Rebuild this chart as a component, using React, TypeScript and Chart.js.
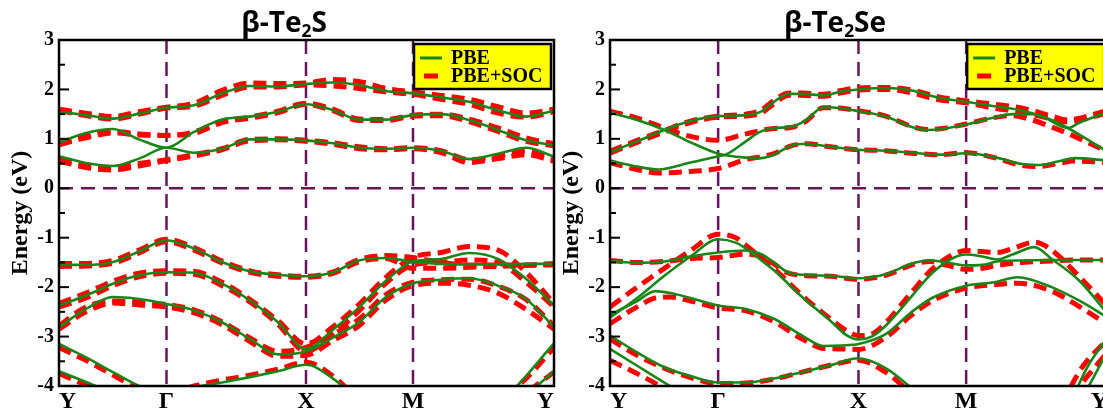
import React, { useEffect, useRef } from 'react';
import { Chart, registerables } from 'chart.js';

Chart.register(...registerables);

// ---------- axis data ----------
const kTicks = [0, 107.5, 247, 354, 495];
const kLabels = ['Y', 'Γ', 'X', 'M', 'Y'];
const kGrid = [0, 27, 54, 80, 107.5, 135, 163, 191, 219, 247, 274, 300, 327, 354, 382, 410, 439, 467, 495];
const yTicks = [-4, -3, -2, -1, 0, 1, 2, 3];

// ---------- β-Te2S (values on kGrid) ----------
const s_pbe_c3 = [1.55, 1.48, 1.41, 1.51, 1.63, 1.68, 1.92, 2.07, 2.06, 2.11, 2.14, 2.09, 1.97, 1.92, 1.84, 1.75, 1.58, 1.45, 1.57];
const s_pbe_c2 = [0.93, 1.12, 1.20, 0.99, 0.82, 1.14, 1.39, 1.45, 1.55, 1.70, 1.58, 1.39, 1.39, 1.48, 1.50, 1.38, 1.18, 0.97, 0.87];
const s_pbe_c1 = [0.65, 0.51, 0.45, 0.60, 0.82, 0.72, 0.80, 0.99, 0.99, 0.97, 0.91, 0.82, 0.80, 0.82, 0.76, 0.59, 0.70, 0.82, 0.64];
const s_pbe_v1 = [-1.55, -1.55, -1.49, -1.28, -1.05, -1.22, -1.49, -1.68, -1.75, -1.78, -1.70, -1.46, -1.41, -1.49, -1.53, -1.54, -1.54, -1.53, -1.53];
const s_pbe_v2 = [-2.37, -2.17, -1.93, -1.76, -1.70, -1.71, -1.93, -2.27, -2.71, -3.25, -2.86, -2.41, -1.87, -1.48, -1.43, -1.31, -1.43, -1.83, -2.37];
const s_pbe_v3 = [-2.81, -2.44, -2.20, -2.24, -2.34, -2.47, -2.71, -3.05, -3.36, -3.30, -3.02, -2.71, -2.20, -1.92, -1.85, -1.82, -1.97, -2.24, -2.81];
const s_pbe_v4 = [-3.15, -3.42, -3.72, -4.00, -4.20, -4.03, -3.93, -3.82, -3.70, -3.57, -3.85, -4.30, -4.80, -5.00, -5.00, -4.90, -4.40, -3.80, -3.13];
const s_pbe_v5 = [-3.70, -3.92, -4.15, -4.45, -4.80, -5.00, -5.00, -5.00, -5.00, -5.00, -5.00, -5.00, -5.00, -5.00, -5.00, -5.00, -4.75, -4.20, -3.70];

const s_soc_c3a = [1.60, 1.52, 1.45, 1.55, 1.64, 1.72, 1.98, 2.13, 2.12, 2.13, 2.20, 2.16, 2.02, 1.95, 1.88, 1.80, 1.65, 1.52, 1.60];
const s_soc_c3b = [1.57, 1.47, 1.40, 1.50, 1.62, 1.66, 1.88, 2.05, 2.05, 2.09, 2.07, 2.02, 1.95, 1.90, 1.80, 1.70, 1.52, 1.44, 1.55];
const s_soc_c2a = [0.90, 1.05, 1.15, 1.10, 1.07, 1.14, 1.36, 1.44, 1.56, 1.72, 1.60, 1.40, 1.39, 1.48, 1.50, 1.40, 1.22, 1.02, 0.90];
const s_soc_c2b = [0.88, 1.02, 1.12, 1.08, 1.07, 1.11, 1.33, 1.42, 1.53, 1.70, 1.57, 1.37, 1.37, 1.46, 1.47, 1.35, 1.15, 0.95, 0.86];
const s_soc_c1a = [0.60, 0.47, 0.42, 0.50, 0.58, 0.68, 0.80, 0.99, 1.00, 0.97, 0.92, 0.84, 0.80, 0.82, 0.76, 0.58, 0.65, 0.75, 0.60];
const s_soc_c1b = [0.55, 0.42, 0.37, 0.45, 0.56, 0.65, 0.78, 0.96, 0.98, 0.95, 0.89, 0.80, 0.78, 0.80, 0.72, 0.52, 0.60, 0.68, 0.55];
const s_soc_v1a = [-1.52, -1.52, -1.46, -1.25, -1.03, -1.20, -1.47, -1.67, -1.75, -1.78, -1.69, -1.44, -1.36, -1.40, -1.50, -1.55, -1.55, -1.55, -1.52];
const s_soc_v1b = [-1.58, -1.57, -1.52, -1.31, -1.08, -1.25, -1.51, -1.70, -1.78, -1.80, -1.72, -1.49, -1.42, -1.62, -1.62, -1.60, -1.58, -1.56, -1.55];
const s_soc_v2a = [-2.33, -2.12, -1.88, -1.72, -1.67, -1.68, -1.90, -2.25, -2.68, -3.15, -2.80, -2.35, -1.80, -1.40, -1.30, -1.18, -1.25, -1.70, -2.33];
const s_soc_v2b = [-2.40, -2.22, -1.97, -1.79, -1.72, -1.74, -1.97, -2.30, -2.75, -3.30, -2.95, -2.48, -1.92, -1.55, -1.50, -1.45, -1.50, -1.90, -2.40];
const s_soc_v3a = [-2.78, -2.40, -2.28, -2.30, -2.35, -2.46, -2.70, -3.03, -3.30, -3.22, -2.95, -2.65, -2.15, -1.90, -1.85, -1.84, -1.98, -2.25, -2.78];
const s_soc_v3b = [-2.85, -2.50, -2.32, -2.36, -2.40, -2.52, -2.76, -3.10, -3.40, -3.38, -3.08, -2.78, -2.26, -1.97, -1.92, -1.96, -2.12, -2.45, -2.85];
const s_soc_v4 = [-3.22, -3.48, -3.78, -4.05, -4.18, -4.00, -3.88, -3.78, -3.66, -3.52, -3.80, -4.30, -4.80, -5.00, -5.00, -4.80, -4.30, -3.85, -3.22];
const s_soc_v5 = [-3.75, -3.98, -4.20, -4.50, -4.80, -5.00, -5.00, -5.00, -5.00, -5.00, -5.00, -5.00, -5.00, -5.00, -5.00, -5.00, -4.70, -4.15, -3.72];

// ---------- β-Te2Se ([k, E] pairs) ----------
const se_pbe_cp: [number, number][] = [[0, 0.73], [27, 0.95], [54, 1.18], [80, 1.36], [107.5, 1.46], [135, 1.48], [150, 1.55], [163, 1.75], [178, 1.91], [191, 1.91], [212, 1.88], [230, 1.96], [247, 2.0], [274, 2.03], [300, 1.98], [327, 1.83], [354, 1.75], [382, 1.66], [410, 1.57], [430, 1.45], [455, 1.22], [467, 1.33], [495, 1.55]];
const se_pbe_cq: [number, number][] = [[0, 1.53], [27, 1.38], [54, 1.18], [80, 0.93], [107.5, 0.70], [115, 0.67], [135, 0.62], [150, 0.61], [163, 0.68], [180, 0.86], [195, 0.90], [219, 0.84], [247, 0.78], [274, 0.76], [300, 0.72], [327, 0.68], [354, 0.71], [382, 0.63], [410, 0.49], [425, 0.47], [445, 0.54], [462, 0.61], [495, 0.56]];
const se_pbe_cr: [number, number][] = [[0, 0.56], [27, 0.44], [48, 0.38], [80, 0.52], [107.5, 0.65], [115, 0.68], [135, 0.95], [150, 1.15], [163, 1.22], [180, 1.24], [195, 1.38], [212, 1.64], [230, 1.62], [247, 1.56], [274, 1.45], [300, 1.24], [315, 1.18], [330, 1.20], [354, 1.29], [382, 1.43], [400, 1.50], [420, 1.50], [439, 1.38], [455, 1.22], [467, 1.08], [495, 0.73]];
const se_pbe_va: [number, number][] = [[0, -1.46], [27, -1.51], [54, -1.48], [80, -1.38], [107.5, -1.30], [135, -1.26], [150, -1.33], [163, -1.50], [175, -1.68], [191, -1.75], [219, -1.77], [247, -1.82], [274, -1.74], [300, -1.52], [318, -1.46], [335, -1.50], [354, -1.56], [370, -1.55], [385, -1.48], [410, -1.46], [439, -1.45], [467, -1.45], [495, -1.45]];
const se_pbe_vb: [number, number][] = [[0, -2.62], [27, -2.22], [54, -1.77], [80, -1.38], [107.5, -1.03], [125, -1.10], [135, -1.22], [150, -1.45], [163, -1.66], [191, -2.20], [219, -2.68], [235, -2.97], [247, -3.06], [260, -3.00], [274, -2.78], [300, -2.18], [320, -1.72], [340, -1.42], [354, -1.34], [370, -1.38], [385, -1.44], [400, -1.34], [422, -1.19], [439, -1.43], [467, -1.88], [495, -2.55]];
const se_pbe_vc: [number, number][] = [[0, -2.56], [27, -2.28], [45, -2.08], [60, -2.12], [80, -2.22], [107.5, -2.37], [135, -2.44], [163, -2.64], [191, -2.98], [212, -3.19], [230, -3.18], [247, -3.15], [274, -2.95], [300, -2.50], [320, -2.22], [354, -1.97], [382, -1.90], [405, -1.80], [439, -2.00], [467, -2.28], [495, -2.62]];
const se_pbe_vd: [number, number][] = [[0, -2.98], [27, -3.32], [54, -3.62], [80, -3.80], [107.5, -3.93], [135, -3.93], [163, -3.85], [191, -3.72], [219, -3.58], [247, -3.44], [274, -3.64], [300, -4.05], [330, -4.60], [380, -5.00], [430, -4.90], [455, -4.40], [475, -3.60], [495, -3.00]];
const se_pbe_ve: [number, number][] = [[0, -3.25], [27, -3.59], [54, -3.93], [80, -4.25], [110, -4.70], [440, -4.90], [467, -4.30], [495, -3.28]];

const se_soc_cpa: [number, number][] = [[0, 0.75], [27, 0.97], [54, 1.17], [80, 1.36], [107.5, 1.46], [135, 1.50], [150, 1.58], [163, 1.78], [178, 1.93], [191, 1.93], [212, 1.90], [230, 1.98], [247, 2.03], [274, 2.04], [300, 1.99], [327, 1.85], [354, 1.77], [382, 1.70], [410, 1.62], [439, 1.46], [455, 1.38], [467, 1.42], [495, 1.58]];
const se_soc_cpb: [number, number][] = [[0, 0.71], [27, 0.93], [54, 1.14], [80, 1.33], [107.5, 1.44], [135, 1.46], [150, 1.52], [163, 1.71], [178, 1.88], [191, 1.88], [212, 1.86], [230, 1.93], [247, 1.99], [274, 2.00], [300, 1.93], [327, 1.79], [354, 1.73], [382, 1.62], [410, 1.54], [439, 1.40], [455, 1.34], [467, 1.38], [495, 1.53]];
const se_soc_cq: [number, number][] = [[0, 1.56], [27, 1.42], [54, 1.22], [80, 1.05], [107.5, 0.97], [135, 1.10], [163, 1.21], [180, 1.23], [195, 1.36], [212, 1.63], [230, 1.62], [247, 1.57], [274, 1.46], [300, 1.25], [315, 1.19], [330, 1.21], [354, 1.30], [382, 1.43], [400, 1.47], [420, 1.38], [439, 1.24], [455, 1.11], [467, 1.00], [495, 0.74]];
const se_soc_cr: [number, number][] = [[0, 0.52], [27, 0.38], [48, 0.31], [80, 0.34], [107.5, 0.40], [135, 0.58], [150, 0.64], [163, 0.70], [180, 0.86], [195, 0.90], [219, 0.84], [247, 0.78], [274, 0.76], [300, 0.71], [327, 0.68], [354, 0.72], [382, 0.62], [410, 0.46], [425, 0.44], [445, 0.50], [462, 0.55], [495, 0.52]];
const se_soc_va: [number, number][] = [[0, -1.46], [27, -1.50], [54, -1.48], [80, -1.42], [107.5, -1.40], [135, -1.33], [150, -1.38], [163, -1.53], [175, -1.70], [191, -1.76], [219, -1.78], [247, -1.84], [274, -1.76], [300, -1.55], [318, -1.48], [335, -1.56], [354, -1.64], [370, -1.62], [385, -1.56], [410, -1.50], [439, -1.47], [467, -1.45], [495, -1.45]];
const se_soc_vb: [number, number][] = [[0, -2.40], [27, -2.00], [54, -1.62], [80, -1.26], [107.5, -0.93], [125, -1.00], [135, -1.15], [150, -1.40], [163, -1.62], [191, -2.17], [219, -2.64], [235, -2.88], [247, -2.98], [260, -2.95], [274, -2.72], [300, -2.10], [320, -1.64], [340, -1.35], [354, -1.26], [370, -1.28], [385, -1.30], [400, -1.22], [422, -1.09], [439, -1.25], [467, -1.80], [495, -2.40]];
const se_soc_vc: [number, number][] = [[0, -2.74], [27, -2.40], [45, -2.22], [60, -2.20], [80, -2.28], [107.5, -2.42], [135, -2.48], [163, -2.70], [191, -3.05], [212, -3.24], [230, -3.25], [247, -3.26], [274, -3.02], [300, -2.56], [320, -2.28], [354, -2.02], [382, -1.95], [405, -1.92], [439, -2.08], [467, -2.40], [495, -2.76]];
const se_soc_vd: [number, number][] = [[0, -3.05], [27, -3.38], [54, -3.64], [80, -3.83], [107.5, -3.95], [135, -3.94], [163, -3.86], [191, -3.72], [219, -3.58], [247, -3.48], [274, -3.72], [300, -4.15], [330, -4.60], [380, -5.00], [430, -4.90], [450, -4.30], [470, -3.60], [495, -3.05]];
const se_soc_ve: [number, number][] = [[0, -3.48], [27, -3.75], [54, -4.05], [80, -4.40], [110, -4.80], [440, -4.90], [460, -4.20], [495, -3.30]];

// ---------- styling ----------
const GREEN = 'rgb(24,135,24)';
const RED = 'rgb(255,0,0)';
const PURPLE = 'rgb(104,22,92)';
const SERIF = '"Liberation Serif", "Times New Roman", serif';

type Band = number[] | [number, number][];

function toPoints(b: Band) {
  if (typeof b[0] === 'number') {
    return (b as number[]).map((e, i) => ({ x: kGrid[i], y: e }));
  }
  return (b as [number, number][]).map(([x, y]) => ({ x, y }));
}

const panelTe2S = {
  pbe: [s_pbe_c3, s_pbe_c2, s_pbe_c1, s_pbe_v1, s_pbe_v2, s_pbe_v3, s_pbe_v4, s_pbe_v5] as Band[],
  soc: [s_soc_c3a, s_soc_c3b, s_soc_c2a, s_soc_c2b, s_soc_c1a, s_soc_c1b, s_soc_v1a, s_soc_v1b, s_soc_v2a, s_soc_v2b, s_soc_v3a, s_soc_v3b, s_soc_v4, s_soc_v5] as Band[],
};
const panelTe2Se = {
  pbe: [se_pbe_cp, se_pbe_cq, se_pbe_cr, se_pbe_va, se_pbe_vb, se_pbe_vc, se_pbe_vd, se_pbe_ve] as Band[],
  soc: [se_soc_cpa, se_soc_cpb, se_soc_cq, se_soc_cr, se_soc_va, se_soc_vb, se_soc_vc, se_soc_vd, se_soc_ve] as Band[],
};

const decorPlugin = {
  id: 'decor',
  beforeDatasetsDraw(chart: any) {
    const { ctx, chartArea: a, scales } = chart;
    ctx.save();
    ctx.strokeStyle = PURPLE;
    ctx.lineWidth = 2.5;
    ctx.setLineDash([14, 8]);
    for (const k of kTicks.slice(1, 4)) {
      const x = scales.x.getPixelForValue(k);
      ctx.beginPath();
      ctx.moveTo(x, a.top);
      ctx.lineTo(x, a.bottom);
      ctx.stroke();
    }
    const y0 = scales.y.getPixelForValue(0);
    ctx.beginPath();
    ctx.moveTo(a.left, y0);
    ctx.lineTo(a.right, y0);
    ctx.stroke();
    ctx.restore();
  },
  afterDraw(chart: any) {
    const { ctx, chartArea: a, scales } = chart;
    ctx.save();
    // inward ticks
    ctx.strokeStyle = '#000';
    ctx.lineWidth = 2;
    for (let v = -4; v <= 3; v += 0.5) {
      const y = scales.y.getPixelForValue(v);
      const len = Number.isInteger(v) ? 10 : 6;
      ctx.beginPath();
      ctx.moveTo(a.left, y);
      ctx.lineTo(a.left + len, y);
      ctx.stroke();
    }
    // frame
    ctx.lineWidth = 2.5;
    ctx.strokeRect(a.left, a.top, a.right - a.left, a.bottom - a.top);
    // legend
    const xM = scales.x.getPixelForValue(kTicks[3]);
    const bx = xM + 1;
    const by = a.top + 4;
    const bw = 137;
    const bh = 45;
    ctx.fillStyle = '#ffff00';
    ctx.fillRect(bx, by, bw, bh);
    ctx.lineWidth = 2.5;
    ctx.strokeStyle = '#000';
    ctx.strokeRect(bx, by, bw, bh);
    const r1 = by + 14;
    const r2 = by + 32;
    ctx.strokeStyle = GREEN;
    ctx.lineWidth = 3;
    ctx.beginPath();
    ctx.moveTo(bx + 6, r1);
    ctx.lineTo(bx + 28, r1);
    ctx.stroke();
    ctx.strokeStyle = RED;
    ctx.lineWidth = 5;
    ctx.beginPath();
    ctx.moveTo(bx + 10, r2);
    ctx.lineTo(bx + 24, r2);
    ctx.stroke();
    ctx.fillStyle = '#000';
    ctx.font = `bold 20px ${SERIF}`;
    ctx.textBaseline = 'middle';
    ctx.textAlign = 'left';
    ctx.fillText('PBE', bx + 37, r1 + 1);
    ctx.fillText('PBE+SOC', bx + 37, r2 + 1);
    ctx.restore();
  },
};

function makeChart(canvas: HTMLCanvasElement, panel: { pbe: Band[]; soc: Band[] }) {
  const datasets: any[] = [];
  panel.pbe.forEach((b) =>
    datasets.push({
      data: toPoints(b),
      borderColor: GREEN,
      borderWidth: 2.6,
      pointRadius: 0,
      fill: false,
      cubicInterpolationMode: 'monotone',
      order: 0,
      clip: 0,
    })
  );
  panel.soc.forEach((b) =>
    datasets.push({
      data: toPoints(b),
      borderColor: RED,
      borderWidth: 5,
      borderDash: [13, 7],
      pointRadius: 0,
      fill: false,
      cubicInterpolationMode: 'monotone',
      order: 1,
      clip: 0,
    })
  );
  return new Chart(canvas, {
    type: 'line',
    data: { datasets },
    options: {
      animation: false,
      responsive: false,
      maintainAspectRatio: false,
      layout: { padding: { top: 40, right: 3, left: 0, bottom: 0 } },
      plugins: { legend: { display: false }, tooltip: { enabled: false }, title: { display: false } },
      scales: {
        x: {
          type: 'linear',
          min: kTicks[0],
          max: kTicks[kTicks.length - 1],
          grid: { display: false, drawTicks: false },
          border: { display: false },
          afterBuildTicks: (s: any) => {
            s.ticks = kTicks.map((v) => ({ value: v }));
          },
          afterFit: (s: any) => {
            s.height = 29;
          },
          ticks: {
            autoSkip: false,
            maxRotation: 0,
            align: 'inner',
            padding: 1,
            color: '#000',
            font: { family: SERIF, size: 24, weight: 'bold' },
            callback: (_v: any, i: number) => kLabels[i],
          },
        },
        y: {
          type: 'linear',
          min: yTicks[0],
          max: yTicks[yTicks.length - 1],
          grid: { display: false, drawTicks: false },
          border: { display: false },
          afterBuildTicks: (s: any) => {
            s.ticks = yTicks.map((v) => ({ value: v }));
          },
          afterFit: (s: any) => {
            s.width = 59;
          },
          ticks: {
            padding: 5,
            color: '#000',
            font: { family: SERIF, size: 20, weight: 'bold' },
            callback: (v: any) => String(v),
          },
          title: {
            display: true,
            text: 'Energy (eV)',
            color: '#000',
            padding: { top: 6, bottom: 0 },
            font: { family: SERIF, size: 24, weight: 'bold', lineHeight: 1.2 },
          },
        },
      },
    } as any,
    plugins: [decorPlugin],
  });
}

const titleStyle: React.CSSProperties = {
  position: 'absolute',
  top: 5,
  width: 240,
  textAlign: 'center',
  fontFamily: '"Open Sans", "Noto Sans", sans-serif',
  fontWeight: 700,
  fontSize: 28,
  lineHeight: '32px',
  color: '#000',
  whiteSpace: 'nowrap',
};
const subStyle: React.CSSProperties = { fontSize: '0.62em', verticalAlign: '-0.28em', lineHeight: 0 };

export default function App() {
  const c1 = useRef<HTMLCanvasElement>(null);
  const c2 = useRef<HTMLCanvasElement>(null);
  useEffect(() => {
    const a = makeChart(c1.current!, panelTe2S);
    const b = makeChart(c2.current!, panelTe2Se);
    return () => {
      a.destroy();
      b.destroy();
    };
  }, []);
  return (
    <div style={{ position: 'fixed', left: 0, top: 0, width: 1103, height: 415, overflow: 'hidden', background: '#fff' }}>
      <canvas ref={c1} width={557} height={415} style={{ position: 'absolute', left: 0, top: 0, width: 557, height: 415 }} />
      <canvas ref={c2} width={560} height={415} style={{ position: 'absolute', left: 551, top: 0, width: 560, height: 415 }} />
      <div style={{ ...titleStyle, left: 284 - 120 }}>
        β-Te<sub style={subStyle}>2</sub>S
      </div>
      <div style={{ ...titleStyle, left: 835 - 120 }}>
        β-Te<sub style={subStyle}>2</sub>Se
      </div>
    </div>
  );
}
